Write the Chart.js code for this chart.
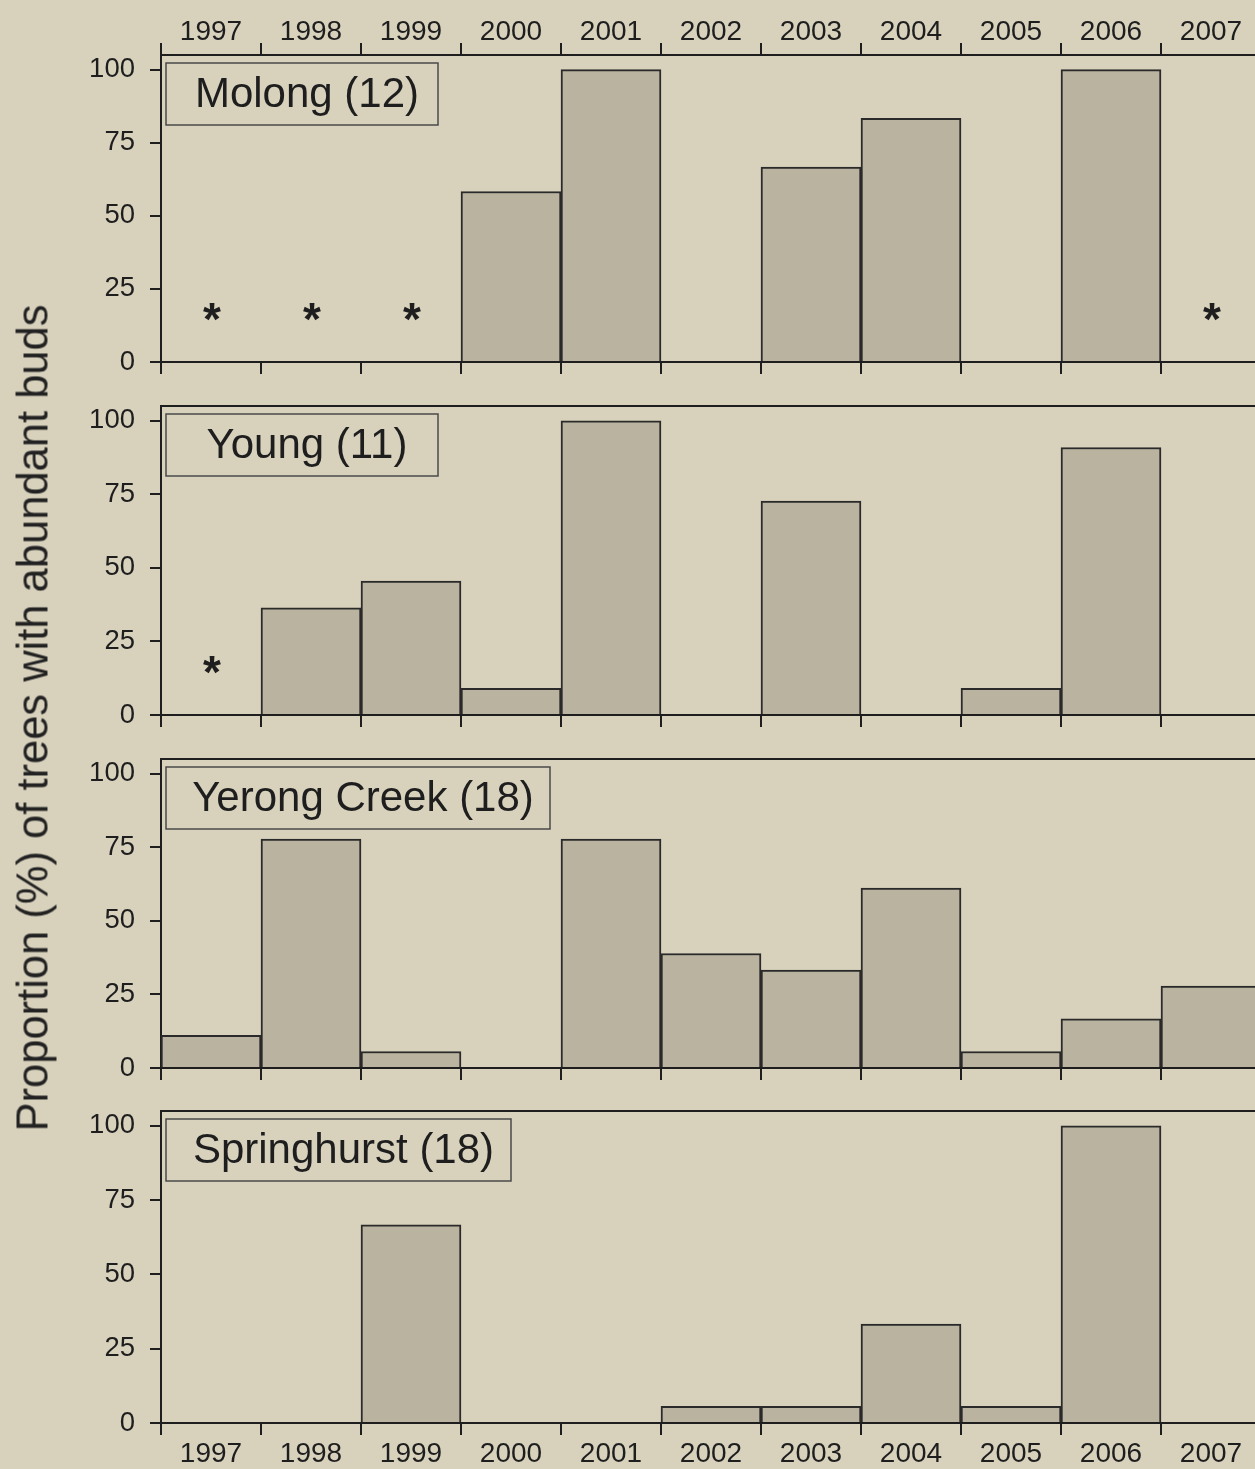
<!DOCTYPE html>
<html>
<head>
<meta charset="utf-8">
<script src="https://cdn.jsdelivr.net/npm/chart.js@4"></script>
<style>
  html, body { margin: 0; padding: 0; background: #d8d2bd; }
  #wrap { position: relative; width: 1255px; height: 1469px; overflow: hidden; background: #d8d2bd; }
  canvas { position: absolute; left: 0; }
  #ytitle {
    position: absolute; left: 33px; top: 718px;
    transform: translate(-50%, -50%) rotate(-90deg);
    white-space: nowrap; font: 43.5px "Liberation Sans", Arial, sans-serif; color: #222;
  }
</style>
</head>
<body>
<div id="wrap">
  <canvas id="p0"></canvas>
  <canvas id="p1"></canvas>
  <canvas id="p2"></canvas>
  <canvas id="p3"></canvas>
  <div id="ytitle">Proportion (%) of trees with abundant buds</div>
</div>
<script>
// data
var years = ["1997", "1998", "1999", "2000", "2001", "2002", "2003", "2004", "2005", "2006", "2007"];
var sites = ["Molong (12)", "Young (11)", "Yerong Creek (18)", "Springhurst (18)"];

var molong = [null, null, null, 58.3, 100, 0, 66.7, 83.3, 0, 100, null];
var young = [null, 36.4, 45.5, 9.1, 100, 0, 72.7, 0, 9.1, 90.9, 0];
var yerong = [11.1, 77.8, 5.6, 0, 77.8, 38.9, 33.3, 61.1, 5.6, 16.7, 27.8];
var springhurst = [0, 0, 66.7, 0, 0, 5.6, 5.6, 33.3, 5.6, 100, 0];

// years with no data (marked with *)
var molongMissing = ["1997", "1998", "1999", "2007"];
var youngMissing = ["1997"];
var yerongMissing = [];
var springhurstMissing = [];
var markLevel = 17;

var yTicks = [0, 25, 50, 75, 100];

var ink = "#1e1e1e";
var barFill = "#bab39f";

var panels = [
  {data: molong, missing: molongMissing, top: 55, bottom: 362, topH: 55, bottomH: 16, topLabels: true, bottomLabels: false, boxW: 272},
  {data: young, missing: youngMissing, top: 406, bottom: 715, topH: 3, bottomH: 16, topLabels: false, bottomLabels: false, boxW: 272},
  {data: yerong, missing: yerongMissing, top: 759, bottom: 1068, topH: 3, bottomH: 16, topLabels: false, bottomLabels: false, boxW: 384},
  {data: springhurst, missing: springhurstMissing, top: 1111, bottom: 1423, topH: 3, bottomH: 46, topLabels: false, bottomLabels: true, boxW: 345}
];

var decorPlugin = {
  id: "decor",
  afterDatasetsDraw: function (chart) {
    var p = chart.options.plugins.decor;
    var ctx = chart.ctx;
    var area = chart.chartArea;
    var xs = chart.scales.x, ys = chart.scales.y;
    ctx.save();
    // asterisks for missing years
    ctx.fillStyle = ink;
    ctx.font = "bold 46px 'Liberation Sans', Arial, sans-serif";
    ctx.textAlign = "center";
    ctx.textBaseline = "alphabetic";
    p.missing.forEach(function (yr) {
      var x = xs.getPixelForValue(years.indexOf(yr));
      var y = ys.getPixelForValue(markLevel);
      ctx.fillText("*", x + 1, y + 23);
    });
    // site label box
    var bx = area.left + 5, by = area.top + 8, bh = 62;
    ctx.fillStyle = "#d8d2bd";
    ctx.fillRect(bx, by, p.boxW, bh);
    ctx.strokeStyle = "#4a4a4a";
    ctx.lineWidth = 1.5;
    ctx.strokeRect(bx, by, p.boxW, bh);
    ctx.fillStyle = ink;
    ctx.font = "42px 'Liberation Sans', Arial, sans-serif";
    ctx.textBaseline = "middle";
    ctx.fillText(p.name, bx + p.boxW / 2 + 5, by + bh / 2 + 1);
    ctx.restore();
  }
};

panels.forEach(function (pn, i) {
  var canvas = document.getElementById("p" + i);
  var h = pn.topH + (pn.bottom - pn.top) + pn.bottomH;
  canvas.width = 1261;
  canvas.height = h;
  canvas.style.top = (pn.top - pn.topH) + "px";

  new Chart(canvas, {
    type: "bar",
    data: {
      labels: years,
      datasets: [{
        data: pn.data,
        backgroundColor: barFill,
        borderColor: "#2a2a2a",
        borderWidth: 2,
        barPercentage: 1,
        categoryPercentage: 1,
        xAxisID: "x",
        yAxisID: "y"
      }]
    },
    options: {
      responsive: false,
      animation: false,
      events: [],
      layout: {padding: 0},
      plugins: {
        legend: {display: false},
        tooltip: {enabled: false},
        decor: {missing: pn.missing, name: sites[i], boxW: pn.boxW}
      },
      scales: {
        x: {
          type: "category",
          position: "bottom",
          offset: true,
          grid: {offset: true, drawOnChartArea: false, drawTicks: true, tickLength: 12, color: ink, lineWidth: 2},
          border: {display: true, color: ink, width: 2},
          ticks: {display: pn.bottomLabels, color: ink, font: {family: "'Liberation Sans', Arial", size: 28}, padding: 2, maxRotation: 0, autoSkip: false},
          afterFit: function (s) { s.height = pn.bottomH; s.paddingLeft = 0; s.paddingRight = 0; }
        },
        x2: {
          type: "category",
          labels: years,
          position: "top",
          offset: true,
          grid: {offset: true, drawOnChartArea: false, drawTicks: pn.topLabels, tickLength: 12, color: ink, lineWidth: 2},
          border: {display: true, color: ink, width: 2},
          ticks: {display: pn.topLabels, color: ink, font: {family: "'Liberation Sans', Arial", size: 28}, padding: -6, maxRotation: 0, autoSkip: false},
          afterFit: function (s) { s.height = pn.topH; s.paddingLeft = 0; s.paddingRight = 0; }
        },
        y: {
          min: 0,
          max: 105,
          grid: {drawOnChartArea: false, drawTicks: true, tickLength: 11, color: ink, lineWidth: 2},
          border: {display: true, color: ink, width: 2},
          ticks: {color: ink, font: {family: "'Liberation Sans', Arial", size: 27.5}, padding: 15},
          afterBuildTicks: function (s) { s.ticks = yTicks.map(function (v) { return {value: v}; }); },
          afterFit: function (s) { s.width = 161; s.paddingTop = 0; s.paddingBottom = 0; }
        }
      }
    },
    plugins: [decorPlugin]
  });
});
</script>
</body>
</html>
